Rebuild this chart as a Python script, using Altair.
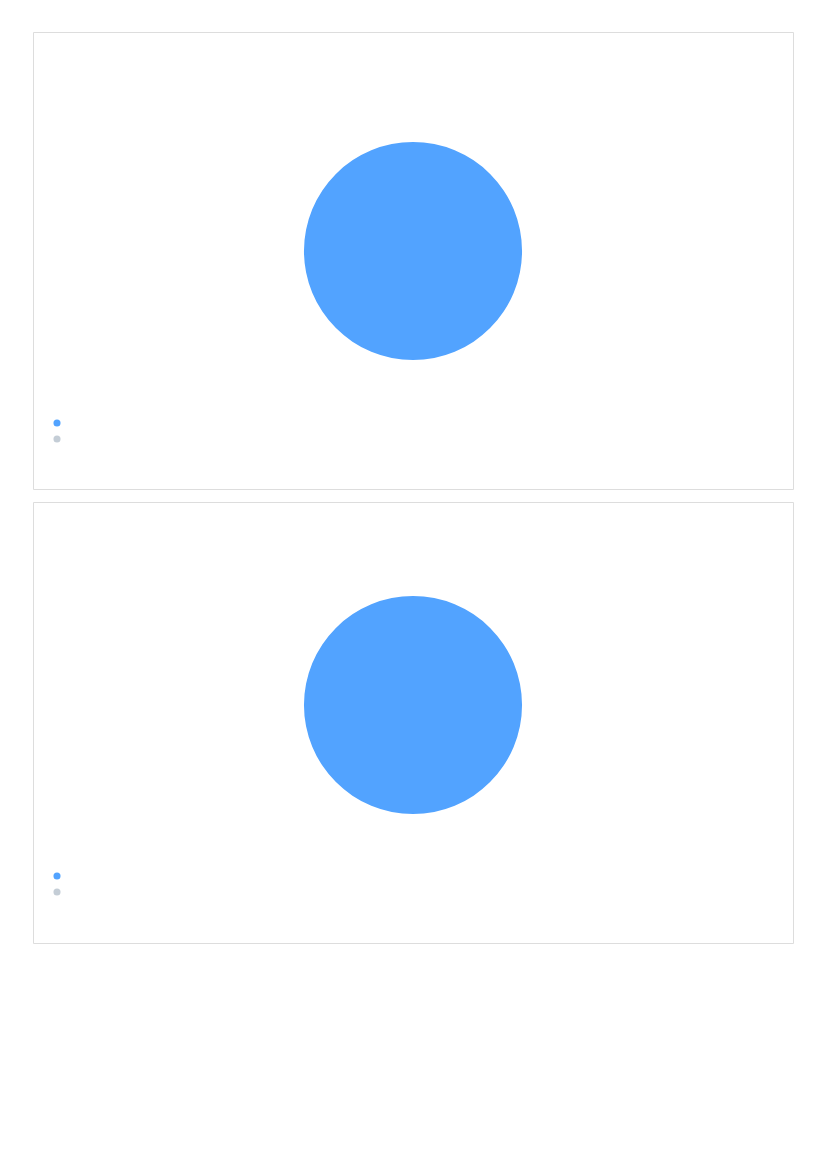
import altair as alt
import pandas as pd

categories = ["Category A", "Category B"]
values_top = [100, 0]
values_bottom = [100, 0]
colors = ["#52A3FF", "#C4CDD6"]


def panel(values, h, cy, legend_y):
    df = pd.DataFrame({"category": categories, "value": values})
    return (
        alt.Chart(df)
        .mark_arc(radius=109)
        .encode(
            theta=alt.Theta("value:Q", stack=True),
            color=alt.Color(
                "category:N",
                scale=alt.Scale(domain=categories, range=colors),
                legend=alt.Legend(
                    title=None,
                    orient="none",
                    legendX=18,
                    legendY=legend_y,
                    symbolType="circle",
                    symbolSize=50,
                    labelExpr="''",
                    labelFontSize=12,
                    rowPadding=4,
                    padding=0,
                ),
            ),
            x=alt.value(380),
            y=alt.value(cy),
            order=alt.Order("category:N"),
        )
        .properties(width=760, height=h)
    )


top = panel(values_top, 457, 219, 385)
bottom = panel(values_bottom, 441, 203, 368)

chart = (
    alt.vconcat(top, bottom, spacing=11)
    .resolve_scale(color="independent")
    .properties(padding={"left": 24, "top": 23, "right": 5, "bottom": 5})
    .configure_view(stroke="#E5E7EB", strokeWidth=1.2, cornerRadius=6)
    .configure(background="white")
)

chart.save("out.html", embed_options={"renderer": "svg", "actions": False})
